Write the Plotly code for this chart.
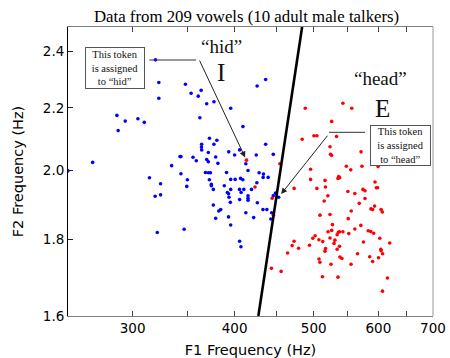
import plotly.graph_objects as go

# F1 (Hz) and F2 (kHz) of vowel tokens
hid_f1 = [320, 323, 323, 287, 293.8, 304.5, 310, 288, 348.2, 353.8, 364, 361, 369.7, 377.4,
          395.6, 362.7, 426.2, 436.6, 409.5, 268, 250, 372.6, 380.5, 364.5, 377.3, 364.3,
          364.5, 371.4, 393.4, 400, 405.7, 342.9, 343.8, 355.7, 359, 369.7, 379.2, 371.4,
          381.6, 334.9, 425.2, 412.9, 415.4, 428.6, 391, 368.4, 371.5, 373.6, 343.8, 350.1,
          314.6, 395.6, 406.8, 436.6, 446.1, 433.9, 433.5, 439.7, 400.6, 409.4, 372.5, 374.6,
          374.6, 376.7, 388.5, 391.9, 393.2, 395.6, 405.5, 410.5, 407.4, 425.9, 419.5, 415.4,
          415.4, 415.4, 405.7, 393.7, 395.2, 426.5, 324.6, 319.7, 324.6, 321.6, 349.5, 346.9,
          376.7, 384.6, 382.5, 412.9, 422.1, 393.2, 379.2, 395.6, 405.7, 407.2, 446.1, 448.9,
          452.9, 433.3, 438.1, 444, 443]
hid_f2 = [2.368, 2.287, 2.233, 2.175, 2.156, 2.164, 2.152, 2.125, 2.281, 2.250, 2.260, 2.240,
          2.214, 2.221, 2.199, 2.167, 2.275, 2.298, 2.138, 2.024, 1.998, 2.100, 2.094, 2.081,
          2.081, 2.072, 2.063, 2.055, 2.057, 2.047, 2.063, 2.042, 2.042, 2.040, 2.029, 2.033,
          2.041, 2.026, 2.021, 2.014, 2.047, 2.020, 1.999, 1.992, 1.993, 1.993, 1.992, 1.992,
          1.989, 1.971, 1.977, 1.972, 1.975, 2.081, 2.049, 1.988, 1.978, 1.978, 1.972, 1.971,
          1.971, 1.957, 1.953, 1.942, 1.953, 1.933, 1.929, 1.942, 1.942, 1.942, 1.933, 1.962,
          1.942, 1.923, 1.916, 1.910, 1.912, 1.919, 1.904, 1.903, 1.959, 1.922, 1.926, 1.818,
          1.951, 1.827, 1.896, 1.883, 1.879, 1.874, 1.860, 1.862, 1.858, 1.839, 1.794, 1.779,
          1.923, 1.931, 1.919, 1.883, 1.883, 1.874, 1.856]

head_f1 = [413.6, 423.7, 454.4, 444.7, 446.3, 488.2, 542.9, 556.7, 526, 500.3, 504.5, 484,
           533.2, 523.5, 524.3, 525.8, 571.4, 495.6, 548.2, 555.1, 572.9, 599.5, 536.5, 535.4,
           538, 516.2, 495.6, 594.4, 596.6, 598.7, 516.8, 504.5, 473.1, 574.5, 577.8, 561.5,
           550.5, 520.4, 515, 568.5, 577.8, 593.7, 587.6, 590.5, 604.6, 606.8, 555.8, 523.5,
           508.9, 551.1, 527.1, 571.1, 583.1, 587.2, 592.1, 561.5, 520.6, 526, 536, 537.7,
           542.9, 534.2, 552, 512.9, 502, 498.7, 507.4, 523.5, 530.8, 529.5, 575.3, 602.4,
           619.5, 537.7, 534.2, 517, 516.1, 494.1, 473.1, 470.5, 479.1, 464.5, 507.5, 508.8,
           524.9, 538.3, 541.4, 555.5, 565.8, 585.6, 590.4, 600.3, 604.2, 604.7, 607.2, 512.5,
           535.4, 615.6, 607, 443.8, 456.1]
head_f2 = [2.031, 1.949, 2.020, 1.916, 1.867, 2.199, 2.216, 2.199, 2.155, 2.108, 2.108, 2.097,
           2.106, 2.073, 2.049, 2.046, 2.057, 2.003, 2.012, 2.001, 2.012, 2.011, 1.981, 1.975,
           1.977, 1.969, 1.972, 1.964, 1.947, 1.947, 1.949, 1.945, 1.945, 1.942, 1.938, 1.930,
           1.936, 1.923, 1.908, 1.901, 1.915, 1.893, 1.885, 1.883, 1.883, 1.876, 1.879, 1.869,
           1.867, 1.857, 1.840, 1.838, 1.823, 1.821, 1.816, 1.828, 1.820, 1.824, 1.819, 1.820,
           1.820, 1.812, 1.815, 1.793, 1.809, 1.802, 1.798, 1.803, 1.797, 1.788, 1.792, 1.802,
           1.789, 1.780, 1.772, 1.774, 1.767, 1.783, 1.794, 1.782, 1.775, 1.762, 1.746, 1.737,
           1.732, 1.751, 1.747, 1.732, 1.760, 1.752, 1.739, 1.749, 1.772, 1.768, 1.760, 1.699,
           1.698, 1.696, 1.662, 1.721, 1.713]

# decision boundary end points
boundary_f1 = [427.7, 483.9]
boundary_f2 = [1.6, 2.49]

x_ticks = [300, 350, 400, 450, 500, 550, 600, 650, 700]
x_ticktext = ["300", "", "400", "", "500", "", "600", "", "700"]
y_ticks = [1.6, 1.8, 2.0, 2.2, 2.4]
y_ticktext = ["1.6", "1.8", "2.0", "2.2", "2.4"]

fig = go.Figure()
fig.add_trace(go.Scatter(x=hid_f1, y=hid_f2, mode="markers",
                         marker=dict(color="#0000ff", size=3.6)))
fig.add_trace(go.Scatter(x=head_f1, y=head_f2, mode="markers",
                         marker=dict(color="#ff0000", size=3.6)))
fig.add_trace(go.Scatter(x=boundary_f1, y=boundary_f2, mode="lines",
                         line=dict(color="black", width=2.6)))

serif = "Liberation Serif, Times New Roman, serif"
sans = "DejaVu Sans, sans-serif"

fig.update_layout(
    width=450, height=358,
    margin=dict(l=68, r=17, t=27, b=42),
    paper_bgcolor="white", plot_bgcolor="white",
    showlegend=False,
    title=dict(text="Data from 209 vowels (10 adult male talkers)",
               font=dict(family=serif, size=16.8, color="#000"),
               x=0.548, xanchor="center", y=0.955, yanchor="middle"),
    xaxis=dict(type="log", range=[2.39794, 2.845098], tickvals=x_ticks, ticktext=x_ticktext,
               ticks="inside", ticklen=5, tickcolor="#444", showline=True, linecolor="#808080",
               mirror="ticks", showgrid=False, zeroline=False, automargin=False,
               tickfont=dict(family=sans, size=13.5, color="#000"),
               title=dict(text="F1 Frequency (Hz)", font=dict(family=sans, size=14.5, color="#000"))),
    yaxis=dict(type="log", range=[0.20412, 0.396199], tickvals=y_ticks, ticktext=y_ticktext,
               ticks="inside", ticklen=5, tickcolor="#222", showline=True, linecolor="black",
               showgrid=False, zeroline=False, automargin=False,
               tickfont=dict(family=sans, size=13.5, color="#000"),
               title=dict(text="F2 Frequency (Hz)", font=dict(family=sans, size=14.5, color="#000"))),
)

# right frame edge
fig.add_shape(type="line", xref="paper", yref="paper", x0=1, x1=1, y0=0, y1=1,
              line=dict(color="#999", width=1))
# horizontal leader segments
fig.add_shape(type="line", xref="paper", yref="paper", x0=0.2227, x1=0.3507, y0=0.8858, y1=0.8858,
              line=dict(color="#333", width=1))
fig.add_shape(type="line", xref="paper", yref="paper", x0=0.7151, x1=0.8137, y0=0.6356, y1=0.6356,
              line=dict(color="#333", width=1))

# arrows
fig.add_annotation(x=2.6165, y=0.30771, xref="x", yref="y", text="", showarrow=True,
                   arrowhead=2, arrowsize=1.2, arrowwidth=1, arrowcolor="#222",
                   ax=-47.5, ay=-101, axref="pixel", ayref="pixel", standoff=3)
fig.add_annotation(x=2.65601, y=0.28307, xref="x", yref="y", text="", showarrow=True,
                   arrowhead=2, arrowsize=1.2, arrowwidth=1, arrowcolor="#222",
                   ax=50, ay=-63, axref="pixel", ayref="pixel", standoff=4)

# callout boxes
fig.add_annotation(xref="paper", yref="paper", x=0.1288, y=0.858, showarrow=False,
                   xanchor="center", yanchor="middle",
                   text="This token<br>is assigned<br>to “hid”",
                   font=dict(family=serif, size=10.5, color="#111"),
                   width=54, height=36, borderpad=2, bordercolor="#555", borderwidth=1,
                   bgcolor="white", align="center")
fig.add_annotation(xref="paper", yref="paper", x=0.9096, y=0.5907, showarrow=False,
                   xanchor="center", yanchor="middle",
                   text="This token<br>is assigned<br>to “head”",
                   font=dict(family=serif, size=10.5, color="#111"),
                   width=55, height=35, borderpad=2, bordercolor="#555", borderwidth=1,
                   bgcolor="white", align="center")

# vowel labels
for txt, x, y, sz in [("“hid”", 0.4203, 0.9318, 19), ("I", 0.4192, 0.843, 25),
                      ("“head”", 0.8548, 0.8225, 19), ("E", 0.8622, 0.7187, 25)]:
    fig.add_annotation(xref="paper", yref="paper", x=x, y=y, text=txt, showarrow=False,
                       font=dict(family=serif, size=sz, color="#111"),
                       xanchor="center", yanchor="middle")

fig.write_html("out.html", config={"displayModeBar": False},
               post_script="document.body.style.margin='0';")
